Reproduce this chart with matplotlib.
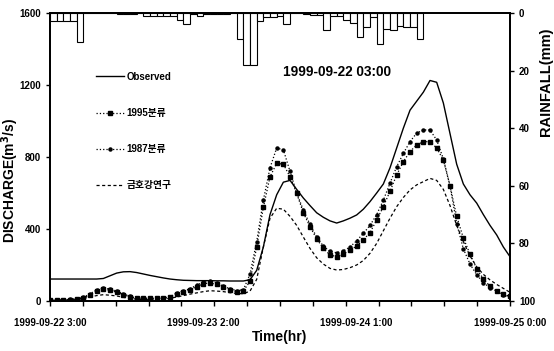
import numpy as np
import matplotlib
matplotlib.use("Agg")
import matplotlib.pyplot as plt

plt.rcParams['font.family'] = ['Liberation Sans', 'Noto Sans CJK KR', 'DejaVu Sans']
plt.rcParams['font.weight'] = 'bold'

# hours since 1999-09-22 03:00
hours = np.arange(0, 70)

observed = [122, 122, 122, 122, 122, 122, 122, 122, 125, 140,
            155, 162, 163, 158, 150, 142, 135, 128, 122, 118,
            115, 114, 113, 113, 113, 112, 112, 111, 111, 111,
            118, 170, 300, 480, 590, 660, 670, 620, 572, 530,
            490, 465, 445, 433, 445, 460, 478, 510, 552, 600,
            650, 740, 850, 960, 1060, 1110, 1160, 1225, 1215, 1100,
            930, 760, 650, 590, 544, 480, 420, 367, 300, 246]

sim_1995 = [3, 4, 5, 7, 10, 15, 33, 55, 65, 60,
            48, 36, 22, 16, 14, 14, 14, 15, 20, 40,
            50, 62, 80, 96, 100, 92, 75, 62, 52, 55,
            110, 300, 520, 690, 765, 760, 690, 598, 490, 413,
            345, 292, 256, 246, 262, 283, 305, 340, 380, 450,
            524, 610, 700, 774, 830, 867, 885, 885, 850, 783,
            640, 470, 350, 260, 180, 122, 82, 57, 38, 25]

sim_1987 = [4, 5, 6, 9, 13, 20, 40, 62, 72, 66,
            54, 40, 26, 18, 16, 16, 16, 18, 24, 45,
            56, 68, 88, 105, 110, 100, 82, 68, 58, 62,
            150, 330, 560, 740, 850, 840, 720, 600, 505, 425,
            355, 305, 275, 268, 278, 300, 335, 375, 420, 480,
            560, 655, 746, 820, 885, 933, 950, 950, 894, 790,
            640, 430, 290, 205, 146, 102, 73, 55, 36, 22]

sim_kumho = [0, 1, 3, 5, 8, 14, 22, 30, 35, 32,
             28, 20, 15, 10, 8, 8, 8, 10, 15, 22,
             30, 38, 45, 52, 57, 55, 52, 46, 42, 40,
             55, 120, 300, 460, 515, 510, 470, 420, 355, 292,
             240, 205, 181, 172, 175, 185, 200, 225, 265, 320,
             390, 460, 524, 575, 617, 645, 663, 681, 670, 620,
             530, 420, 330, 250, 190, 148, 117, 92, 70, 48]

rain_hours = np.arange(0, 56)
rainfall = [2.7, 2.7, 2.7, 2.7, 10, 0, 0, 0, 0, 0,
            0.3, 0.3, 0.3, 0, 1, 1, 1, 1, 1, 2.5,
            3.8, 0.3, 1, 0.3, 0.3, 0.3, 0.3, 0, 9, 18,
            18, 2.7, 1.3, 1.5, 1, 3.8, 0, 0, 0.3, 0.7,
            0.7, 6, 1, 1, 2.5, 3.5, 8.4, 5, 1.5, 10.8,
            5.5, 6, 4.5, 5, 5, 9]

tick_labels = ['1999-09-22 3:00', '1999-09-23 2:00', '1999-09-24 1:00', '1999-09-25 0:00']
label_hours = [0, 23, 46, 69]

fig = plt.figure(figsize=(5.54, 3.51), dpi=100)
ax = fig.add_axes([0.0903, 0.1425, 0.8303, 0.8205])

ax.plot(hours, observed, color='black', lw=1.0, label='Observed')
ax.plot(hours, sim_1995, color='black', lw=0.9, ls=':', marker='s', ms=2.6,
        label='1995분류')
ax.plot(hours, sim_1987, color='black', lw=0.9, ls=':', marker='o', ms=2.2,
        label='1987분류')
ax.plot(hours, sim_kumho, color='black', lw=0.9, ls=(0, (2.5, 2)),
        label='금호강연구')

ax.set_xlim(0, 69)
ax.set_ylim(0, 1600)
ax.set_yticks([0, 400, 800, 1200, 1600])
# labels on major ticks (no mark), tick marks on minor ticks
ax.set_xticks(label_hours)
ax.set_xticklabels(tick_labels)
ax.set_xticks(np.linspace(0, 69, 15), minor=True)
ax.xaxis.remove_overlapping_locs = False
ax.tick_params(axis='x', which='major', length=0, pad=12, labelsize=7)
ax.tick_params(axis='x', which='minor', length=3.5, width=1)
ax.tick_params(axis='y', length=3, width=1, labelsize=7)
for s in ax.spines.values():
    s.set_linewidth(1.3)

ax.set_ylabel('DISCHARGE(m$^3$/s)', fontsize=10, fontweight='bold')
ax.yaxis.set_label_coords(-0.063, 0.417)
ax.set_xlabel('Time(hr)', fontsize=10, fontweight='bold', labelpad=2)

ax.text(43, 1272, '1999-09-22 03:00', ha='center', va='center',
        fontsize=9.8, fontweight='bold')

ax.legend(loc='upper left', bbox_to_anchor=(0.1, 0.796), frameon=False,
          fontsize=7, handlelength=2.9, labelspacing=2.7, handletextpad=0.2,
          borderpad=0, borderaxespad=0, numpoints=1)

ax2 = ax.twinx()
ax2.bar(rain_hours, rainfall, width=1, align='edge', color='white',
        edgecolor='black', linewidth=0.8)
ax2.set_ylim(100, 0)
ax2.set_yticks([0, 20, 40, 60, 80, 100])
ax2.tick_params(axis='y', length=3, width=1, labelsize=7)
ax2.set_ylabel('RAINFALL(mm)', fontsize=10.5, fontweight='bold')
ax2.yaxis.set_label_coords(1.063, 0.76)
for s in ax2.spines.values():
    s.set_linewidth(1.3)

fig.savefig('out.png', dpi=100)
